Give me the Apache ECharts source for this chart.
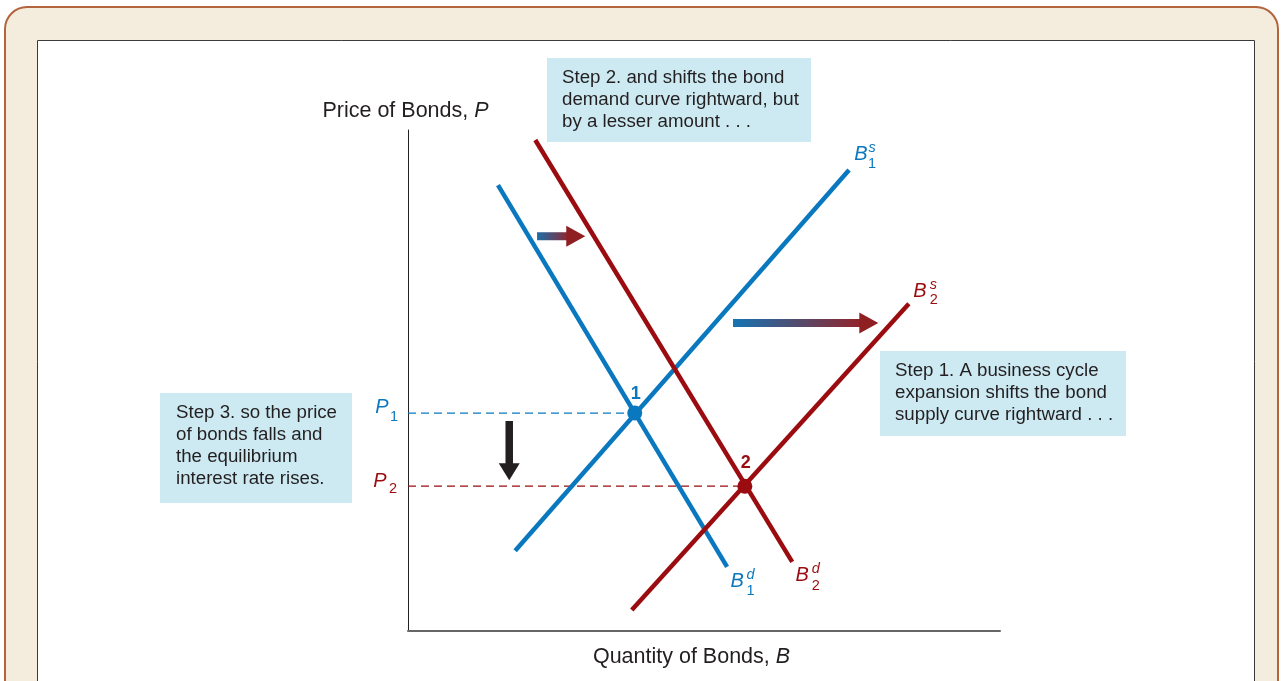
<!DOCTYPE html>
<html>
<head>
<meta charset="utf-8">
<script src="https://cdn.jsdelivr.net/npm/echarts@6/dist/echarts.min.js"></script>
<style>
html,body{margin:0;padding:0;background:#ffffff;}
#c{width:1283px;height:681px;}
</style>
</head>
<body>
<div id="c"></div>
<script>
// ---------------- data (axis units 0..100) ----------------
const supply1 = [[18.1, 16.0], [74.5, 92.0]];   // B1^s
const supply2 = [[37.8, 4.2], [84.6, 65.3]];    // B2^s
const demand1 = [[15.2, 89.0], [53.9, 12.8]];   // B1^d
const demand2 = [[21.5, 98.0], [64.9, 13.8]];   // B2^d
const equilibria = [[38.3, 43.5], [56.9, 28.9]]; // points 1 and 2
const pointNames = ['1', '2'];
const priceLevels = [43.5, 28.9];               // P1, P2
const priceNames = [['P', '1'], ['P', '2']];
const demandShift = [[21.8, 78.8], [26.9, 78.8]]; // shaft start, head base
const supplyShift = [[54.9, 61.5], [76.4, 61.5]];
const priceDrop = [[17.1, 41.9], [17.1, 33.3]];
const curveNames = [
  { key: 's1', anchor: supply1[1], main: 'B', sup: 's', sub: '1' },
  { key: 's2', anchor: supply2[1], main: 'B', sup: 's', sub: '2' },
  { key: 'd1', anchor: demand1[1], main: 'B', sup: 'd', sub: '1' },
  { key: 'd2', anchor: demand2[1], main: 'B', sup: 'd', sub: '2' }
];
const yTitle = 'Price of Bonds, {i|P}';
const xTitle = 'Quantity of Bonds, {i|B}';
const step2Lines = ['Step 2. and shifts the bond', 'demand curve rightward, but', 'by a lesser amount . . .'];
const step1Lines = ['Step 1. A business cycle', 'expansion shifts the bond', 'supply curve rightward . . .'];
const step3Lines = ['Step 3. so the price', 'of bonds falls and', 'the equilibrium', 'interest rate rises.'];

// ---------------- styles / layout ----------------
const BLUE = '#0a78bf';
const RED = '#9a0c10';
const TEXT = '#231f20';
const FONT = '"Liberation Sans", Arial, Helvetica, sans-serif';
const labelLayout = {
  s1: { color: BLUE, main: [12, -16], sup: [23, -22], sub: [23, -6] },
  s2: { color: RED, main: [11, -12], sup: [24.5, -19], sub: [25, -4] },
  d1: { color: BLUE, main: [10, 15], sup: [23.5, 8], sub: [23.5, 24] },
  d2: { color: RED, main: [10, 14], sup: [23.5, 7], sub: [23.5, 24] }
};
const priceLayout = [
  { color: BLUE, main: [-26, -6], sub: [-14, 4] },
  { color: RED, main: [-28, -5], sub: [-15, 3] }
];

const chart = echarts.init(document.getElementById('c'), null, { renderer: 'canvas' });

function curve(data, color) {
  return { type: 'line', data: data, symbol: 'none', silent: true, animation: false, z: 3,
    lineStyle: { color: color, width: 4.5, cap: 'butt' } };
}
function dashed(level, eq, color) {
  return { type: 'line', data: [[0, level], eq], symbol: 'none', silent: true, animation: false, z: 2,
    lineStyle: { color: color, width: 1.3, type: [8, 5] } };
}
function arrow(shaft, dir, shaftColor, headColor, width, headSize) {
  const rot = dir === 'right' ? -90 : 180;
  const off = dir === 'right' ? [headSize[1] / 2 - 1, 0] : [0, headSize[1] / 2 - 1];
  return [
    { type: 'line', data: shaft, symbol: 'none', silent: true, animation: false, z: 3,
      lineStyle: { color: shaftColor, width: width, cap: 'butt' } },
    { type: 'scatter', data: [shaft[1]], symbol: 'triangle', symbolSize: headSize, symbolRotate: rot,
      symbolOffset: off, silent: true, animation: false, z: 4,
      itemStyle: { color: headColor, opacity: 1 } }
  ];
}
function grad() {
  return new echarts.graphic.LinearGradient(0, 0, 1, 0, [
    { offset: 0, color: '#0f76b8' },
    { offset: 1, color: '#962226' }
  ]);
}

const option = {
  backgroundColor: 'transparent',
  animation: false,
  grid: { left: 408, top: 130, width: 592, height: 501, containLabel: false },
  xAxis: {
    type: 'value', min: 0, max: 100,
    axisLine: { show: true, onZero: false, lineStyle: { color: '#666666', width: 2 } },
    axisTick: { show: false }, axisLabel: { show: false }, splitLine: { show: false },
    name: xTitle, nameLocation: 'middle', nameGap: 15,
    nameTextStyle: { color: TEXT, fontSize: 21.5, fontFamily: FONT, padding: [0, 25, 0, 0],
      rich: { i: { fontStyle: 'italic', fontSize: 21.5, fontFamily: FONT, color: TEXT } } }
  },
  yAxis: {
    type: 'value', min: 0, max: 100,
    axisLine: { show: true, onZero: false, lineStyle: { color: '#222222', width: 1 } },
    axisTick: { show: false }, axisLabel: { show: false }, splitLine: { show: false },
    name: yTitle, nameLocation: 'end', nameGap: 8,
    nameTextStyle: { color: TEXT, fontSize: 21.5, fontFamily: FONT, padding: [0, 5, 0, 0], align: 'center',
      rich: { i: { fontStyle: 'italic', fontSize: 21.5, fontFamily: FONT, color: TEXT } } }
  },
  series: [
    dashed(priceLevels[0], equilibria[0], BLUE),
    dashed(priceLevels[1], equilibria[1], RED),
    curve(demand1, BLUE),
    curve(supply1, BLUE),
    curve(demand2, RED),
    curve(supply2, RED),
    ...arrow(demandShift, 'right', grad(), '#8e1f22', 8, [21, 19]),
    ...arrow(supplyShift, 'right', grad(), '#8e1f22', 8, [21, 19]),
    ...arrow(priceDrop, 'down', TEXT, TEXT, 7.5, [21, 17]),
    {
      type: 'scatter', symbolSize: 15, silent: true, animation: false, z: 6,
      data: equilibria.map(function (p, i) {
        const c = i === 0 ? BLUE : RED;
        return { value: p, itemStyle: { color: c, opacity: 1 },
          label: { show: true, position: 'inside', formatter: pointNames[i], offset: [1, i === 0 ? -19 : -23],
            color: c, opacity: 1, fontWeight: 'bold', fontSize: 18, fontFamily: FONT } };
      })
    }
  ]
};
chart.setOption(option);

// ---------------- annotations (placed through the grid's scales) ----------------
const g = [];
g.push({ type: 'rect', z: -10, silent: true, shape: { x: 5, y: 7, width: 1273, height: 720, r: 22 },
  style: { fill: '#f4ecdc', stroke: '#b4643c', lineWidth: 2 } });
g.push({ type: 'rect', z: -9, silent: true, shape: { x: 37.5, y: 40.5, width: 1217, height: 720 },
  style: { fill: '#ffffff', stroke: '#3a3a3a', lineWidth: 1 } });

function box(x, y, w, h, lines, tx, ty) {
  g.push({ type: 'rect', z: 1, silent: true, shape: { x: x, y: y, width: w, height: h },
    style: { fill: '#cdeaf3' } });
  g.push({ type: 'text', z: 1, silent: true, x: tx, y: ty,
    style: { text: lines.join('\n'), fill: TEXT, fontSize: 18.7, fontFamily: FONT, lineHeight: 22,
      align: 'left', verticalAlign: 'top' } });
}
box(547, 58, 264, 84, step2Lines, 562, 67);
box(880, 351, 246, 85, step1Lines, 895, 360);
box(160, 393, 192, 110, step3Lines, 176, 402);

function txt(px, py, off, text, color, size, italic) {
  g.push({ type: 'text', z: 2, silent: true, x: px + off[0], y: py + off[1],
    style: { text: text, fill: color, fontSize: size, fontFamily: FONT, fontStyle: italic ? 'italic' : 'normal',
      align: 'center', verticalAlign: 'middle' } });
}
curveNames.forEach(function (l) {
  const p = chart.convertToPixel({ gridIndex: 0 }, l.anchor);
  const lay = labelLayout[l.key];
  txt(p[0], p[1], lay.main, l.main, lay.color, 20, true);
  txt(p[0], p[1], lay.sup, l.sup, lay.color, 14.5, true);
  txt(p[0], p[1], lay.sub, l.sub, lay.color, 14.5, false);
});
priceLevels.forEach(function (v, i) {
  const p = chart.convertToPixel({ gridIndex: 0 }, [0, v]);
  const lay = priceLayout[i];
  txt(p[0], p[1], lay.main, priceNames[i][0], lay.color, 20, true);
  txt(p[0], p[1], lay.sub, priceNames[i][1], lay.color, 14.5, false);
});
chart.setOption({ graphic: { elements: g } });
</script>
</body>
</html>
